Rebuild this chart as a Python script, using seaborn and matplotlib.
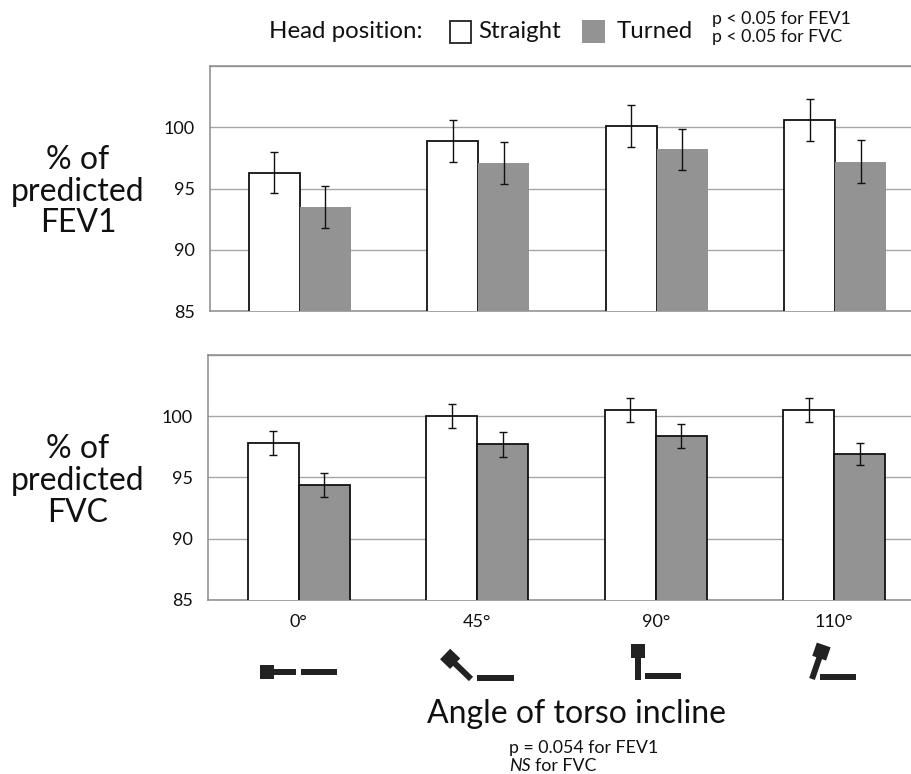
import numpy as np
import pandas as pd
import matplotlib
matplotlib.use('Agg')
import matplotlib.pyplot as plt
from matplotlib.patches import Rectangle, Polygon
import seaborn as sns

angles = ['0°', '45°', '90°', '110°']
head_positions = ['Straight', 'Turned']

fev1_straight = [96.3, 98.9, 100.1, 100.6]
fev1_turned = [93.5, 97.1, 98.2, 97.2]
fev1_err_straight = [1.7, 1.7, 1.7, 1.7]
fev1_err_turned = [1.7, 1.7, 1.65, 1.75]

fvc_straight = [97.8, 100.0, 100.5, 100.5]
fvc_turned = [94.4, 97.7, 98.4, 96.9]
fvc_err_straight = [1.0, 1.0, 1.0, 1.0]
fvc_err_turned = [1.0, 1.0, 1.0, 0.9]

W, H = 912, 774
GREY = '#939393'
LINE = '#a6a6a6'

sns.set_theme(style='white')
plt.rcParams['font.family'] = ['Lato', 'DejaVu Sans']

fig = plt.figure(figsize=(W / 100, H / 100), dpi=100, facecolor='white')


# axes placed with pixel edges measured from the top left of the picture
def make_axes(left, top, right, bottom):
    return fig.add_axes([left / W, 1 - bottom / H, (right - left) / W, (bottom - top) / H])


def px_rect(x0, y0, x1, y1, **kw):
    fig.add_artist(Rectangle((x0 / W, 1 - y1 / H), (x1 - x0) / W, (y1 - y0) / H,
                             transform=fig.transFigure, **kw))


def px_text(x, y, s, size, **kw):
    kw.setdefault('ha', 'left')
    kw.setdefault('va', 'center')
    fig.text(x / W, 1 - y / H, s, fontsize=size, color='#111111', **kw)


def draw_panel(ax, straight, turned, err_s, err_t, turned_edge, xlim):
    df = pd.DataFrame({
        'angle': angles * 2,
        'head': ['Straight'] * 4 + ['Turned'] * 4,
        'value': straight + turned,
    })
    sns.barplot(data=df, x='angle', y='value', hue='head', order=angles, hue_order=head_positions,
                palette={'Straight': 'white', 'Turned': GREY}, width=0.572, gap=0,
                saturation=1, errorbar=None, legend=False, ax=ax, zorder=3)

    errs = err_s + err_t
    vals = straight + turned
    for bar, v, e in zip(ax.patches, vals, errs):
        filled = bar.get_facecolor()[0] < 0.9
        if filled and not turned_edge:
            bar.set_edgecolor('none')
        else:
            bar.set_edgecolor('#111111')
            bar.set_linewidth(1.3)
        ax.errorbar(bar.get_x() + bar.get_width() / 2, v, yerr=e, color='#111111',
                    elinewidth=1.0, capsize=3, capthick=1.0, zorder=4)

    ax.set_xlim(*xlim)
    ax.set_ylim(85, 105)
    ax.set_yticks([85, 90, 95, 100, 105])
    ax.set_yticklabels(['85', '90', '95', '100', ''])
    ax.yaxis.grid(True, color=LINE, linewidth=1)
    ax.set_axisbelow(True)
    ax.set_xlabel('')
    ax.set_ylabel('')
    ax.tick_params(axis='y', length=5, width=1, color=LINE, labelsize=13, labelcolor='#111111', pad=6)
    ax.tick_params(axis='x', length=0, labelsize=13, labelcolor='#111111', pad=10)
    for side in ['top', 'left', 'bottom']:
        ax.spines[side].set_visible(True)
        ax.spines[side].set_color('#8c8c8c')
        ax.spines[side].set_linewidth(1.1)
    ax.spines['right'].set_visible(False)


ax_top = make_axes(210, 66, 912, 311)
ax_bottom = make_axes(208, 355, 912, 600)

draw_panel(ax_top, fev1_straight, fev1_turned, fev1_err_straight, fev1_err_turned, False, (-0.503, 3.43))
draw_panel(ax_bottom, fvc_straight, fvc_turned, fvc_err_straight, fvc_err_turned, True, (-0.508, 3.436))
ax_top.set_xticklabels([])
ax_top.tick_params(axis='x', length=0)

# row labels
px_text(78, 160, '% of', 23, ha='center')
px_text(78, 192, 'predicted', 23, ha='center')
px_text(78, 223, 'FEV1', 23, ha='center')
px_text(78, 449, '% of', 23, ha='center')
px_text(78, 481, 'predicted', 23, ha='center')
px_text(78, 513, 'FVC', 23, ha='center')

# legend row
px_text(269, 31, 'Head position:', 17.3)
px_rect(450, 21, 471, 43, facecolor='white', edgecolor='#222222', linewidth=1.3)
px_text(478, 31, 'Straight', 17.3)
px_rect(582, 20, 605, 43, facecolor=GREY, edgecolor='none')
px_text(617, 31, 'Turned', 17.3)
px_text(712, 19, 'p < 0.05 for FEV1', 12.8)
px_text(712, 37, 'p < 0.05 for FVC', 12.8)

# x title and note
px_text(577, 714, 'Angle of torso incline', 23, ha='center')
px_text(509, 748, 'p = 0.054 for FEV1', 12.8)
px_text(509, 766, 'NS', 12.8, style='italic')
px_text(535, 766, 'for FVC', 12.8)


# little seated figure under each angle
def draw_icon(hip_x, hip_y, lean_deg, seat_x0, seat_y1):
    ink = '#222222'
    a = np.radians(lean_deg)
    u = np.array([-np.cos(a), -np.sin(a)])
    v = np.array([-u[1], u[0]])
    hip = np.array([hip_x, hip_y])

    def quad(d0, d1, half):
        pts = [hip + u * d0 + v * half, hip + u * d1 + v * half,
               hip + u * d1 - v * half, hip + u * d0 - v * half]
        return [(p[0] / W, 1 - p[1] / H) for p in pts]

    fig.add_artist(Polygon(quad(0, 24, 3), closed=True, transform=fig.transFigure, facecolor=ink, edgecolor='none'))
    fig.add_artist(Polygon(quad(22, 36, 7.3), closed=True, transform=fig.transFigure, facecolor=ink, edgecolor='none'))
    px_rect(seat_x0, seat_y1 - 6, seat_x0 + 36.5, seat_y1, facecolor=ink, edgecolor='none')


draw_icon(296, 672, 0, 301, 675)
draw_icon(471, 679, 44, 477, 681)
draw_icon(638, 680, 90, 645, 679)
draw_icon(812, 679, 109, 820, 680)

fig.savefig('out.png', dpi=100)
